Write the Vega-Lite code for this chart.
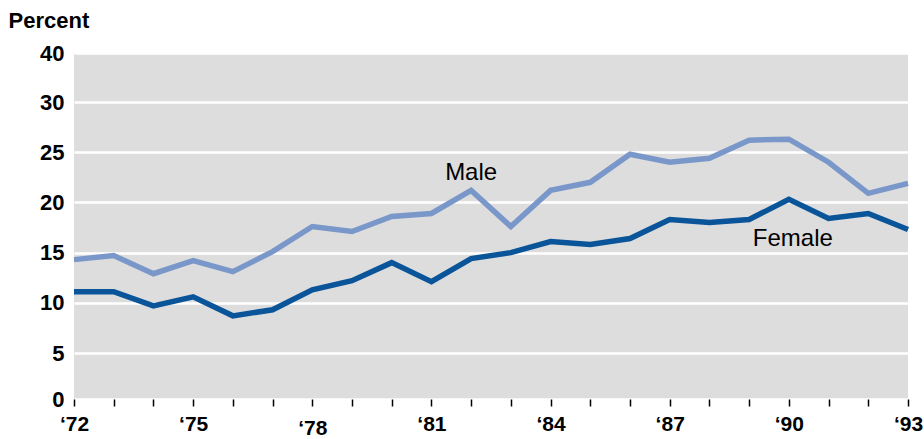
{
  "$schema": "https://vega.github.io/schema/vega-lite/v6.json",
  "autosize": {"type": "none"},
  "padding": {"left": 74, "top": 53, "right": 16, "bottom": 40},
  "width": 834,
  "height": 346,
  "background": "white",
  "view": {"fill": "#dddddd", "stroke": null},
  "data": {"values": [
    {"year": 1972, "series": "Male", "value": 14.3},
    {"year": 1973, "series": "Male", "value": 14.7},
    {"year": 1974, "series": "Male", "value": 12.9},
    {"year": 1975, "series": "Male", "value": 14.2},
    {"year": 1976, "series": "Male", "value": 13.1},
    {"year": 1977, "series": "Male", "value": 15.1},
    {"year": 1978, "series": "Male", "value": 17.6},
    {"year": 1979, "series": "Male", "value": 17.1},
    {"year": 1980, "series": "Male", "value": 18.6},
    {"year": 1981, "series": "Male", "value": 18.9},
    {"year": 1982, "series": "Male", "value": 21.2},
    {"year": 1983, "series": "Male", "value": 17.6},
    {"year": 1984, "series": "Male", "value": 21.2},
    {"year": 1985, "series": "Male", "value": 22.0},
    {"year": 1986, "series": "Male", "value": 24.8},
    {"year": 1987, "series": "Male", "value": 24.0},
    {"year": 1988, "series": "Male", "value": 24.4},
    {"year": 1989, "series": "Male", "value": 26.2},
    {"year": 1990, "series": "Male", "value": 26.3},
    {"year": 1991, "series": "Male", "value": 24.0},
    {"year": 1992, "series": "Male", "value": 20.9},
    {"year": 1993, "series": "Male", "value": 21.9},
    {"year": 1972, "series": "Female", "value": 11.1},
    {"year": 1973, "series": "Female", "value": 11.1},
    {"year": 1974, "series": "Female", "value": 9.7},
    {"year": 1975, "series": "Female", "value": 10.6},
    {"year": 1976, "series": "Female", "value": 8.7},
    {"year": 1977, "series": "Female", "value": 9.3},
    {"year": 1978, "series": "Female", "value": 11.3},
    {"year": 1979, "series": "Female", "value": 12.2},
    {"year": 1980, "series": "Female", "value": 14.0},
    {"year": 1981, "series": "Female", "value": 12.1},
    {"year": 1982, "series": "Female", "value": 14.4},
    {"year": 1983, "series": "Female", "value": 15.0},
    {"year": 1984, "series": "Female", "value": 16.1},
    {"year": 1985, "series": "Female", "value": 15.8},
    {"year": 1986, "series": "Female", "value": 16.4},
    {"year": 1987, "series": "Female", "value": 18.3},
    {"year": 1988, "series": "Female", "value": 18.0},
    {"year": 1989, "series": "Female", "value": 18.3},
    {"year": 1990, "series": "Female", "value": 20.3},
    {"year": 1991, "series": "Female", "value": 18.4},
    {"year": 1992, "series": "Female", "value": 18.9},
    {"year": 1993, "series": "Female", "value": 17.3}
  ]},
  "encoding": {
    "x": {
      "field": "year", "type": "quantitative",
      "scale": {"domain": [1972, 1993], "nice": false, "zero": false},
      "axis": {
        "title": null,
        "values": [1972,1973,1974,1975,1976,1977,1978,1979,1980,1981,1982,1983,1984,1985,1986,1987,1988,1989,1990,1991,1992,1993],
        "labelExpr": "(datum.value - 1972) % 3 == 0 ? '‘' + substring(toString(datum.value), 2) : ''",
        "grid": false,
        "domain": false,
        "ticks": true,
        "tickColor": "#000000",
        "tickWidth": 1.5,
        "tickSize": 7,
        "labelFont": "Liberation Sans, sans-serif",
        "labelFontSize": 21,
        "labelFontWeight": "bold",
        "labelColor": "#000000",
        "labelPadding": {"condition": {"test": "datum.value == 1978", "value": 11}, "value": 7},
        "labelFlush": false,
        "labelOverlap": false
      }
    },
    "y": {
      "field": "value", "type": "quantitative",
      "scale": {"domain": [0, 5, 30, 40], "range": [346, 300, 49, 0], "nice": false, "zero": false},
      "axis": {
        "values": [0, 5, 10, 15, 20, 25, 30, 40],
        "title": "Percent",
        "titleAngle": 0,
        "titleAlign": "left",
        "titleBaseline": "middle",
        "titleX": -66,
        "titleY": -33,
        "titleFont": "Liberation Sans, sans-serif",
        "titleFontSize": 22,
        "titleFontWeight": "bold",
        "titleColor": "#000000",
        "grid": true,
        "gridColor": "#ffffff",
        "gridWidth": 2.5,
        "gridOpacity": 1,
        "domain": false,
        "ticks": false,
        "labelPadding": 10,
        "labelFont": "Liberation Sans, sans-serif",
        "labelFontSize": 22,
        "labelFontWeight": "bold",
        "labelColor": "#000000",
        "labelOverlap": false,
        "labelFlush": false
      }
    }
  },
  "layer": [
    {
      "mark": {"type": "line", "strokeWidth": 5.5, "strokeJoin": "miter"},
      "encoding": {
        "color": {
          "field": "series", "type": "nominal",
          "scale": {"domain": ["Male", "Female"], "range": ["#7a97c9", "#0a5499"]},
          "legend": null
        }
      }
    },
    {
      "transform": [{"filter": "datum.series == 'Male' && datum.year == 1982"}],
      "mark": {"type": "text", "dy": -17, "dx": 0, "fontSize": 24, "font": "Liberation Sans, sans-serif", "color": "#000000", "align": "center", "baseline": "middle"},
      "encoding": {"text": {"field": "series"}}
    },
    {
      "transform": [{"filter": "datum.series == 'Female' && datum.year == 1990"}],
      "mark": {"type": "text", "dy": 40, "dx": 4, "fontSize": 24, "font": "Liberation Sans, sans-serif", "color": "#000000", "align": "center", "baseline": "middle"},
      "encoding": {"text": {"field": "series"}}
    }
  ]
}
